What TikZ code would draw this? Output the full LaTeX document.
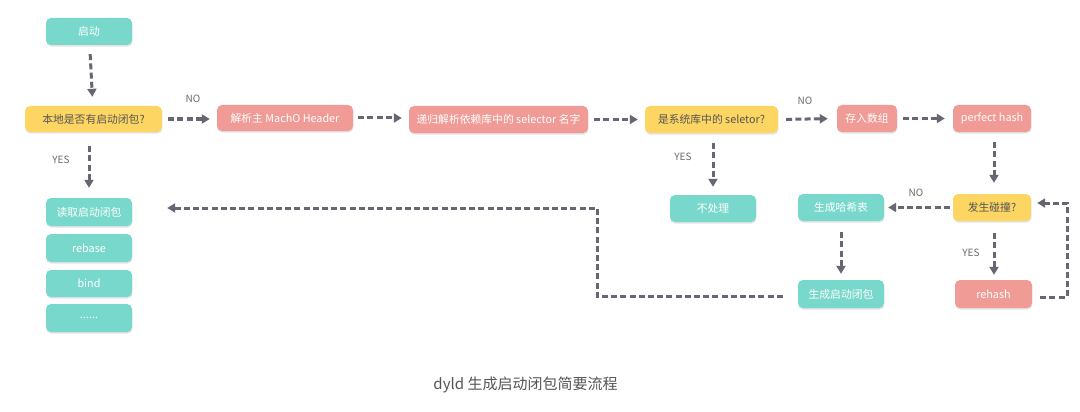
\documentclass[tikz,border=0pt]{standalone}
\usepackage{fontspec}
\setmainfont{Noto Sans CJK SC}
\usetikzlibrary{arrows.meta,shadows}
\definecolor{tealc}{HTML}{79D8CC}
\definecolor{yellowc}{HTML}{FDD563}
\definecolor{salmonc}{HTML}{F09B95}
\definecolor{linec}{HTML}{676774}
\definecolor{darktext}{HTML}{555555}
\definecolor{labeltext}{HTML}{6A6A6A}
\tikzset{
  box/.style={rounded corners=5pt, minimum height=27pt, inner sep=0pt,
    font=\fontsize{10.8}{12}\selectfont, align=center,
    drop shadow={opacity=0.22, shadow xshift=0.4pt, shadow yshift=-1.6pt}},
  tealbox/.style={box, fill=tealc, text=white},
  yellowbox/.style={box, fill=yellowc, text=darktext},
  salmonbox/.style={box, fill=salmonc, text=white},
  flow/.style={draw=linec, line width=3pt, dash pattern=on 6pt off 3.2pt,
    -{Triangle[length=8pt,width=9pt]}, shorten <=7pt, shorten >=7pt},
  lab/.style={text=labeltext, font=\fontsize{10}{12}\selectfont, inner sep=0pt}
}
\begin{document}
\begin{tikzpicture}[x=1pt,y=-1pt]
\useasboundingbox[fill=white] (0,0) rectangle (1080,412);

% nodes
\node[tealbox, minimum width=86pt] (start) at (89,31.5) {启动};
\node[yellowbox, minimum width=137pt, minimum height=26pt] (local) at (93.5,119) {本地是否有启动闭包?};
\node[salmonbox, minimum width=136pt, minimum height=26pt] (macho) at (285,118) {解析主 MachO Header};
\node[salmonbox, minimum width=179pt] (recur) at (498.5,119.5) {递归解析依赖库中的 selector 名字};
\node[yellowbox, minimum width=133pt] (issys) at (711.5,119.5) {是系统库中的 seletor?};
\node[tealbox, minimum width=86pt] (notdo) at (713,208.5) {不处理};
\node[salmonbox, minimum width=60pt] (store) at (867,118.5) {存入数组};
\node[salmonbox, minimum width=78pt] (phash) at (992,118.5) {perfect hash};
\node[yellowbox, minimum width=78pt] (collide) at (992,207.5) {发生碰撞?};
\node[tealbox, minimum width=86pt] (genhash) at (841,207.5) {生成哈希表};
\node[tealbox, minimum width=86pt, minimum height=28pt] (genclos) at (841,294) {生成启动闭包};
\node[salmonbox, minimum width=77pt, minimum height=28pt] (rehash) at (993.5,294) {rehash};

\node[tealbox, minimum width=86pt, minimum height=28pt] (read) at (89,212) {读取启动闭包};
\node[tealbox, minimum width=86pt, minimum height=28pt] (rebase) at (89,248) {rebase};
\node[tealbox, minimum width=86pt, minimum height=27pt] (bind) at (89,283.5) {bind};
\node[tealbox, minimum width=86pt, minimum height=28pt] (dots) at (89,318) {......};

% connectors
\draw[flow, shorten <=9pt, shorten >=9pt] (start) -- (local);
\draw[flow, shorten <=6pt] (local.east) -- (macho.west |- local.east);
\draw[flow, shorten <=14pt, shorten >=10pt] (local.south -| read.north) -- (read.north);
\draw[flow, shorten <=5pt] (macho) -- (recur.west |- macho.east);
\draw[flow, shorten <=6pt] (recur) -- (issys);
\draw[flow, shorten <=10pt, shorten >=8pt] (issys.south -| notdo.north) -- (notdo);
\draw[flow, shorten <=8pt, shorten >=9pt] (issys.east) -- (store.west);
\draw[flow, shorten <=6pt, shorten >=8pt] (store) -- (phash);
\draw[flow, shorten <=10pt, shorten >=11pt] (phash.south -| 994,0) -- (collide.north -| 994,0);
\draw[flow, shorten <=3pt, shorten >=4pt] (collide) -- (genhash);
\draw[flow, shorten <=11pt, shorten >=6pt] (genhash) -- (genclos);
\draw[flow, shorten <=12pt, shorten >=5pt] (collide.south -| 994,0) -- (rehash.north -| 994,0);

\coordinate (loopA) at (1067,297);
\coordinate (loopB) at (1067,203);
\draw[flow, shorten <=8pt, shorten >=6pt] (rehash.east |- loopA) -- (loopA) -- (loopB) -- (collide.east |- loopB);

\coordinate (backA) at (597,296);
\coordinate (backB) at (597,208);
\draw[flow, shorten <=15pt, shorten >=35pt] (genclos.west |- backA) -- (backA) -- (backB) -- (read.east |- backB);

% labels
\node[lab] at (193,99) {NO};
\node[lab] at (61,160) {YES};
\node[lab] at (683,157) {YES};
\node[lab] at (805,101) {NO};
\node[lab] at (916,193) {NO};
\node[lab] at (971,253) {YES};

\node[text=darktext, font=\fontsize{15}{17}\selectfont] (caption) at (525.5,385) {dyld 生成启动闭包简要流程};
\end{tikzpicture}
\end{document}
